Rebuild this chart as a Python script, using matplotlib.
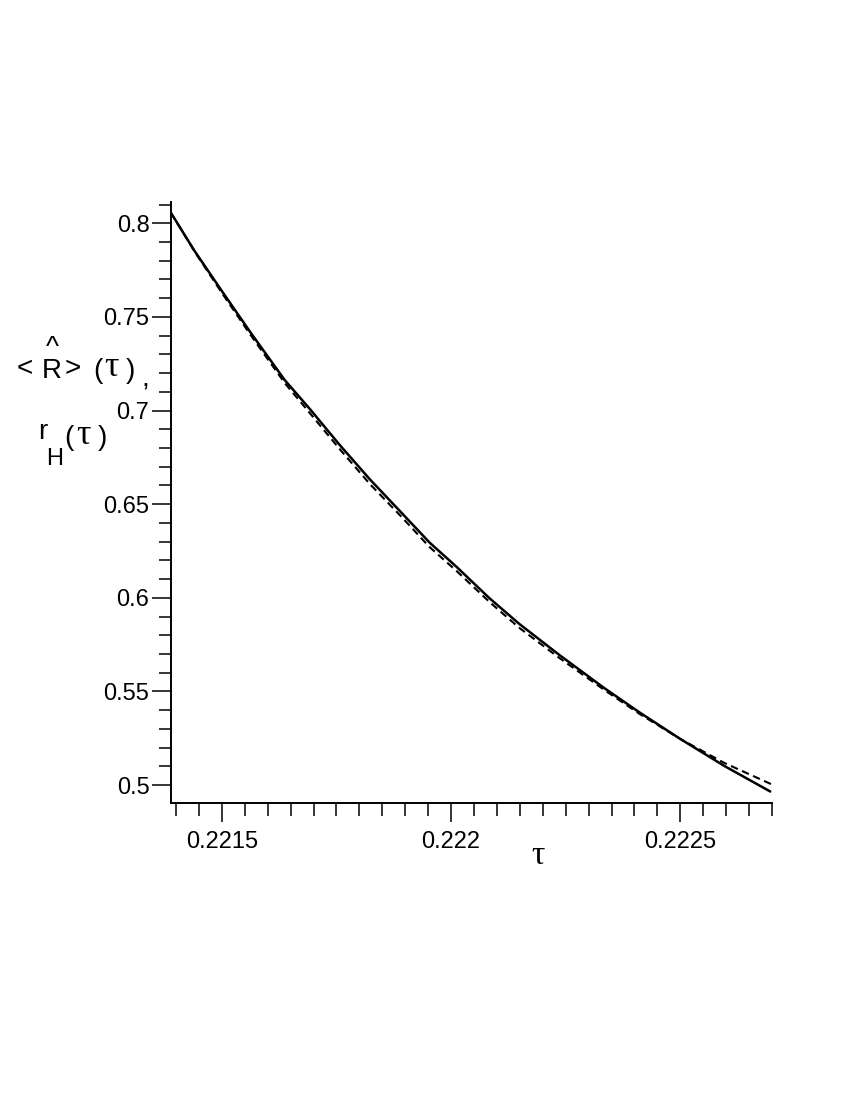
import matplotlib
matplotlib.use("Agg")
import matplotlib.pyplot as plt
from matplotlib.ticker import MultipleLocator, FixedFormatter, FixedLocator

# values
tau = [0.221389, 0.221441, 0.221500, 0.221561, 0.221637, 0.221692,
       0.221757, 0.221823, 0.221888, 0.221953, 0.222012, 0.222084,
       0.222149, 0.222236, 0.222334, 0.222411, 0.222500, 0.222596,
       0.222698]
R_hat = [0.8055, 0.7850, 0.7638, 0.7422, 0.7163, 0.7008, 0.6816, 0.6632,
         0.6464, 0.6295, 0.6165, 0.5997, 0.5860, 0.5695, 0.5518, 0.5388,
         0.5246, 0.5102, 0.4963]
r_H = [0.8055, 0.7847, 0.7628, 0.7409, 0.7147, 0.6986, 0.6794, 0.6607,
       0.6442, 0.6271, 0.6143, 0.5977, 0.5839, 0.5679, 0.5508, 0.5380,
       0.5246, 0.5118, 0.5005]

xticks = [0.2215, 0.2220, 0.2225]
xticklabels = ["0.2215", "0.222", "0.2225"]
yticks = [0.5, 0.55, 0.6, 0.65, 0.7, 0.75, 0.8]
yticklabels = ["0.5", "0.55", "0.6", "0.65", "0.7", "0.75", "0.8"]

plt.rcParams['font.family'] = ['Liberation Sans', 'DejaVu Sans']
serif = ['Liberation Serif', 'DejaVu Serif']

fig = plt.figure(figsize=(8.5, 11), dpi=100)
ax = fig.add_axes([0.2012, 0.27, 0.9082 - 0.2012, 0.8164 - 0.27])

ax.plot(tau, R_hat, color='black', lw=1.8, solid_capstyle='butt')
ax.plot(tau, r_H, color='black', lw=1.5, linestyle=(0, (3.6, 2.2)))

ax.set_xlim(0.221389, 0.2227)
ax.set_ylim(0.4904, 0.8114)

for s in ['top', 'right']:
    ax.spines[s].set_visible(False)
for s in ['left', 'bottom']:
    ax.spines[s].set_linewidth(1.4)

ax.xaxis.set_major_locator(FixedLocator(xticks))
ax.xaxis.set_major_formatter(FixedFormatter(xticklabels))
ax.xaxis.set_minor_locator(MultipleLocator(0.00005))
ax.yaxis.set_major_locator(FixedLocator(yticks))
ax.yaxis.set_major_formatter(FixedFormatter(yticklabels))
ax.yaxis.set_minor_locator(MultipleLocator(0.01))

ax.tick_params(which='major', direction='out', length=13.5, width=1.1,
               labelsize=17, pad=2)
ax.tick_params(which='minor', direction='out', length=9, width=1.1)
ax.tick_params(axis='x', which='major', pad=7)

fig.text(538 / 850, 1 - 856 / 1100, "τ", fontsize=24, ha='center', va='center',
         family=serif)

# y-axis label, drawn in pieces like the original
fs = 20
fig.text(25 / 850, 1 - 369 / 1100, "<", fontsize=fs, ha='center', va='center')
# R with its hat as one two-line text
fig.text(52 / 850, 1 - 378 / 1100, "^\nR", fontsize=fs, ha='center',
         va='baseline', linespacing=0.85, multialignment='center')
fig.text(73 / 850, 1 - 369 / 1100, ">", fontsize=fs, ha='center', va='center')
fig.text(98 / 850, 1 - 371 / 1100, "(", fontsize=fs, ha='center', va='center')
fig.text(111 / 850, 1 - 367 / 1100, "τ", fontsize=26, ha='center', va='center',
         family=serif)
fig.text(130 / 850, 1 - 371 / 1100, ")", fontsize=fs, ha='center', va='center')
fig.text(145 / 850, 1 - 380 / 1100, ",", fontsize=fs, ha='center', va='center')

fig.text(43 / 850, 1 - 432 / 1100, "r", fontsize=fs, ha='center', va='center')
fig.text(55 / 850, 1 - 459 / 1100, "H", fontsize=17, ha='center', va='center')
fig.text(69 / 850, 1 - 438 / 1100, "(", fontsize=fs, ha='center', va='center')
fig.text(83 / 850, 1 - 435 / 1100, "τ", fontsize=26, ha='center', va='center',
         family=serif)
fig.text(102 / 850, 1 - 438 / 1100, ")", fontsize=fs, ha='center', va='center')

fig.savefig("out.png", dpi=100)
